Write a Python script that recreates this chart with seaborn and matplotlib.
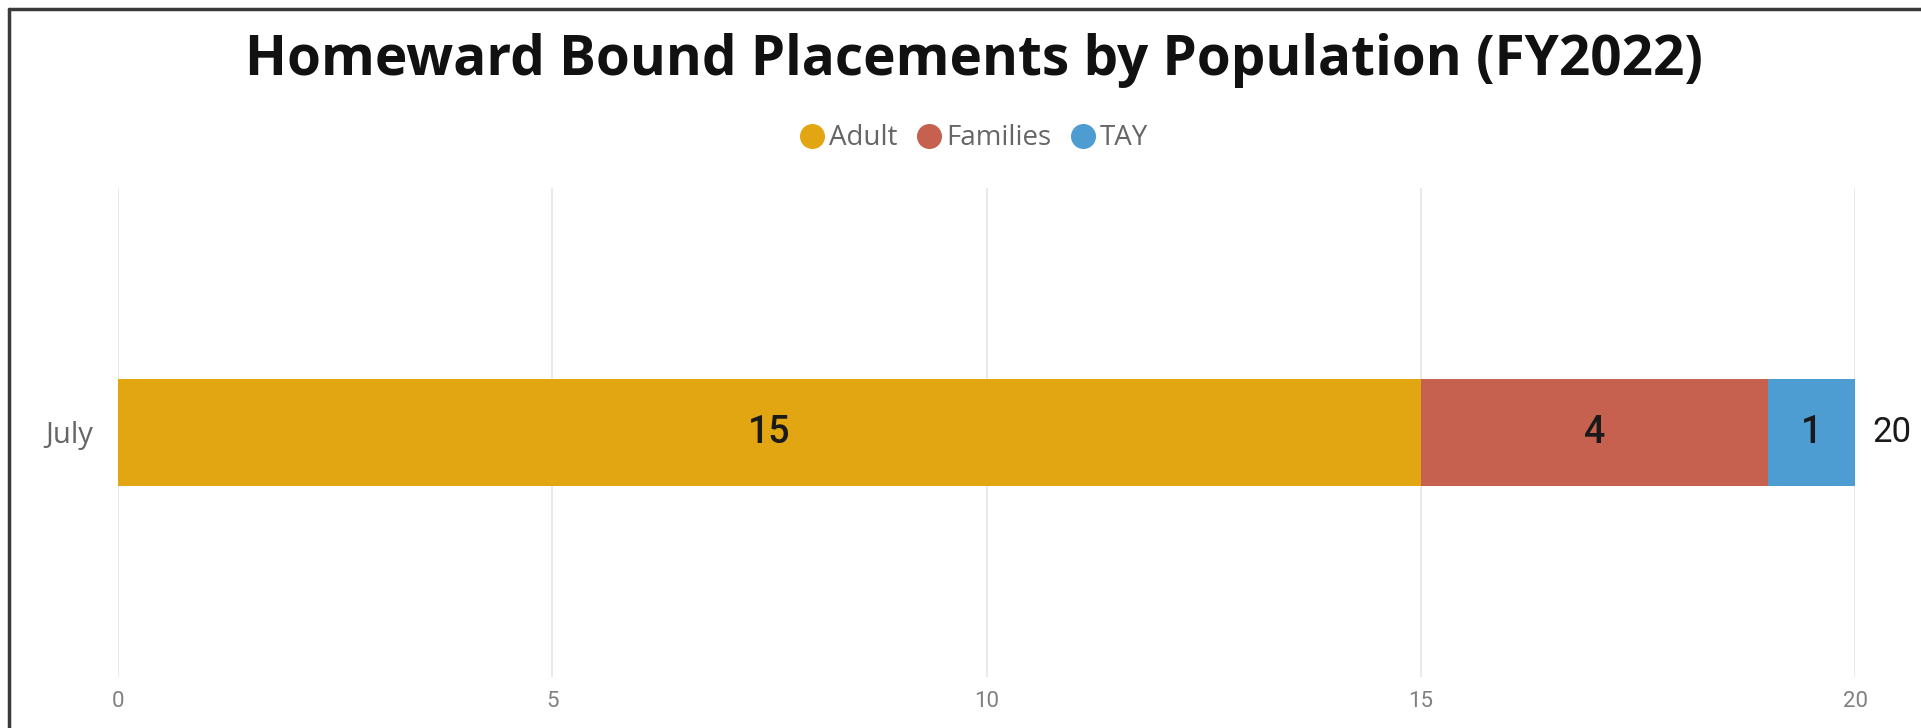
import numpy as np
import pandas as pd
import matplotlib.pyplot as plt
import seaborn as sns
from matplotlib.lines import Line2D

# DATA
months     = ["July"]
adult      = [15]
families   = [4]
tay        = [1]
series     = ["Adult", "Families", "TAY"]
colors     = ["#E2A613", "#C6604F", "#4D9DD3"]
x_ticks    = [0, 5, 10, 15, 20]

sns.set_theme(style="white")
plt.rcParams["font.family"] = ["Open Sans", "DejaVu Sans"]

df = pd.DataFrame({"Month": months, "Adult": adult, "Families": families, "TAY": tay})
# cumulative values so the stacks can be drawn back to front
df["cum_Adult"]    = df["Adult"]
df["cum_Families"] = df["cum_Adult"] + df["Families"]
df["cum_TAY"]      = df["cum_Families"] + df["TAY"]

fig = plt.figure(figsize=(19.21, 7.28), dpi=100)
ax = fig.add_axes([0.0614, 0.0701, 0.9043, 0.6717])

for name, col in reversed(list(zip(series, colors))):
    sns.barplot(data=df, x=f"cum_{name}", y="Month", orient="h",
                color=col, width=0.217, saturation=1, ax=ax, zorder=3,
                linewidth=0, edgecolor="none")

# segment labels
for name in series:
    for i, row in df.iterrows():
        mid = row[f"cum_{name}"] - row[name] / 2
        ax.text(mid, i, f"{row[name]}", ha="center", va="center",
                fontsize=27, color="#1a1a1a", family=["Roboto", "DejaVu Sans"],
                fontweight="medium", zorder=4)

# totals
for i, row in df.iterrows():
    ax.text(row["cum_TAY"] + 0.2, i, f"{row['cum_TAY']}", ha="left", va="center",
            fontsize=25, color="#1a1a1a", family=["Roboto", "DejaVu Sans"], clip_on=False)

ax.set_xlim(0, 20)
ax.set_ylim(0.5, -0.5)
ax.set_xticks(x_ticks)
ax.set_xticklabels([str(t) for t in x_ticks], fontsize=16, color="#808080",
                   family=["Roboto", "DejaVu Sans"])
ax.tick_params(axis="y", labelsize=21, labelcolor="#666666", pad=18, length=0)
ax.tick_params(axis="x", length=0, pad=10)
ax.set_xlabel("")
ax.set_ylabel("")
ax.xaxis.grid(True, color="#E6E6E6", linewidth=1.2, zorder=0)
ax.yaxis.grid(False)
sns.despine(ax=ax, left=True, bottom=True)

fig.suptitle("Homeward Bound Placements by Population (FY2022)",
             x=0.507, y=0.955, fontsize=39.5, fontweight="bold", color="#111111")

handles = [Line2D([0], [0], marker="o", linestyle="", markersize=17,
                  markerfacecolor=c, markeredgecolor=c) for c in colors]
fig.legend(handles, series, loc="center", bbox_to_anchor=(0.507, 0.81), ncol=3,
           frameon=False, fontsize=20, labelcolor="#666666",
           handletextpad=0.15, columnspacing=0.7, handlelength=0.9)

# frame lines on the top and left edges
fig.add_artist(Line2D([9 / 1921, 1.0], [1 - 9 / 728, 1 - 9 / 728],
                      transform=fig.transFigure, color="#3a3a3a", linewidth=2.5))
fig.add_artist(Line2D([9 / 1921, 9 / 1921], [0.0, 1 - 9 / 728],
                      transform=fig.transFigure, color="#3a3a3a", linewidth=2.5))

fig.savefig("out.png", dpi=100, facecolor="white")
